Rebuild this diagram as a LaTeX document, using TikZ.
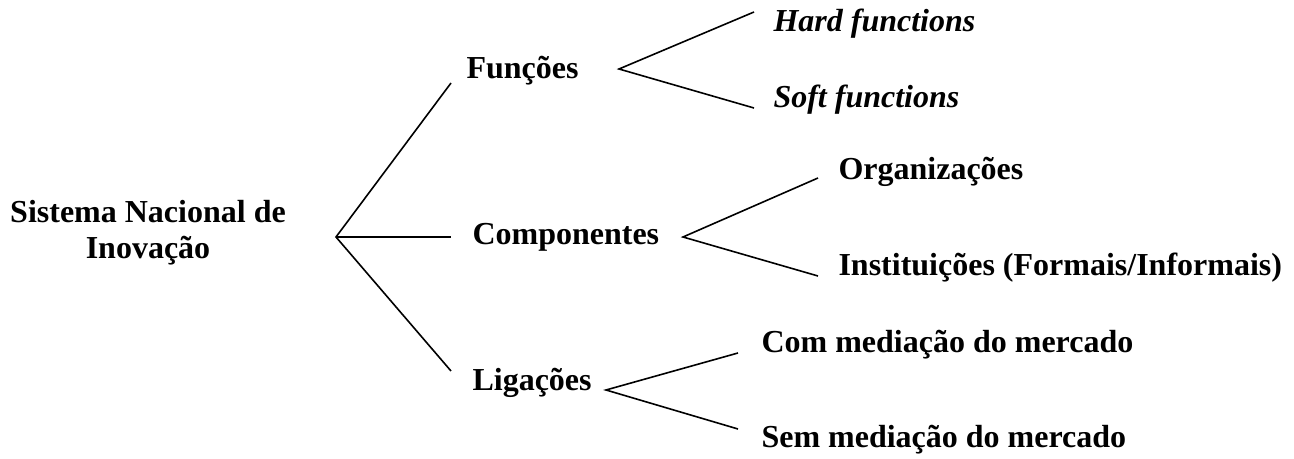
\documentclass[tikz,border=0pt]{standalone}
\usepackage{fontspec}
\setmainfont{Liberation Serif}
\begin{document}
\begin{tikzpicture}[x=0.375pt,y=-0.375pt,
  lbl/.style={anchor=base west,inner sep=0pt,font=\fontsize{12}{14}\selectfont\bfseries},
  ilbl/.style={lbl,font=\fontsize{12}{14}\selectfont\bfseries\itshape},
  ctr/.style={lbl,anchor=base},
  branch/.style={line width=0.6pt,black}]
\useasboundingbox (0,0) rectangle (1294,459);

% root label
\node[ctr] (root1) at (148,223) {Sistema Nacional de};
\node[ctr] (root2) at (148,259) {Inovação};

% second level
\node[lbl] (func) at (466,79) {Funções};
\node[lbl] (comp) at (472,245) {Componentes};
\node[lbl] (lig)  at (472,391) {Ligações};

% third level
\node[ilbl] (hard) at (773,32) {Hard functions};
\node[ilbl] (soft) at (773,108) {Soft functions};
\node[lbl] (org)  at (838,180) {Organizações};
\node[lbl] (inst) at (838,276) {Instituições (Formais/Informais)};
\node[lbl] (com)  at (761,353) {Com mediação do mercado};
\node[lbl] (sem)  at (761,448) {Sem mediação do mercado};

% fork points and branch ends
\coordinate (r0) at (336,237);
\coordinate (rf) at (451,83);
\coordinate (rc) at (451,237);
\coordinate (rl) at (451,371);

\coordinate (f0) at (619,69);
\coordinate (fh) at (754,12);
\coordinate (fs) at (754,108);

\coordinate (c0) at (683,237);
\coordinate (co) at (818,178);
\coordinate (ci) at (818,276);

\coordinate (l0) at (606,390);
\coordinate (lc) at (738,353);
\coordinate (ls) at (738,429);

\draw[branch] (rf) -- (r0) -- (rl);
\draw[branch] (r0) -- (rc);
\draw[branch] (fh) -- (f0) -- (fs);
\draw[branch] (co) -- (c0) -- (ci);
\draw[branch] (lc) -- (l0) -- (ls);
\end{tikzpicture}
\end{document}
